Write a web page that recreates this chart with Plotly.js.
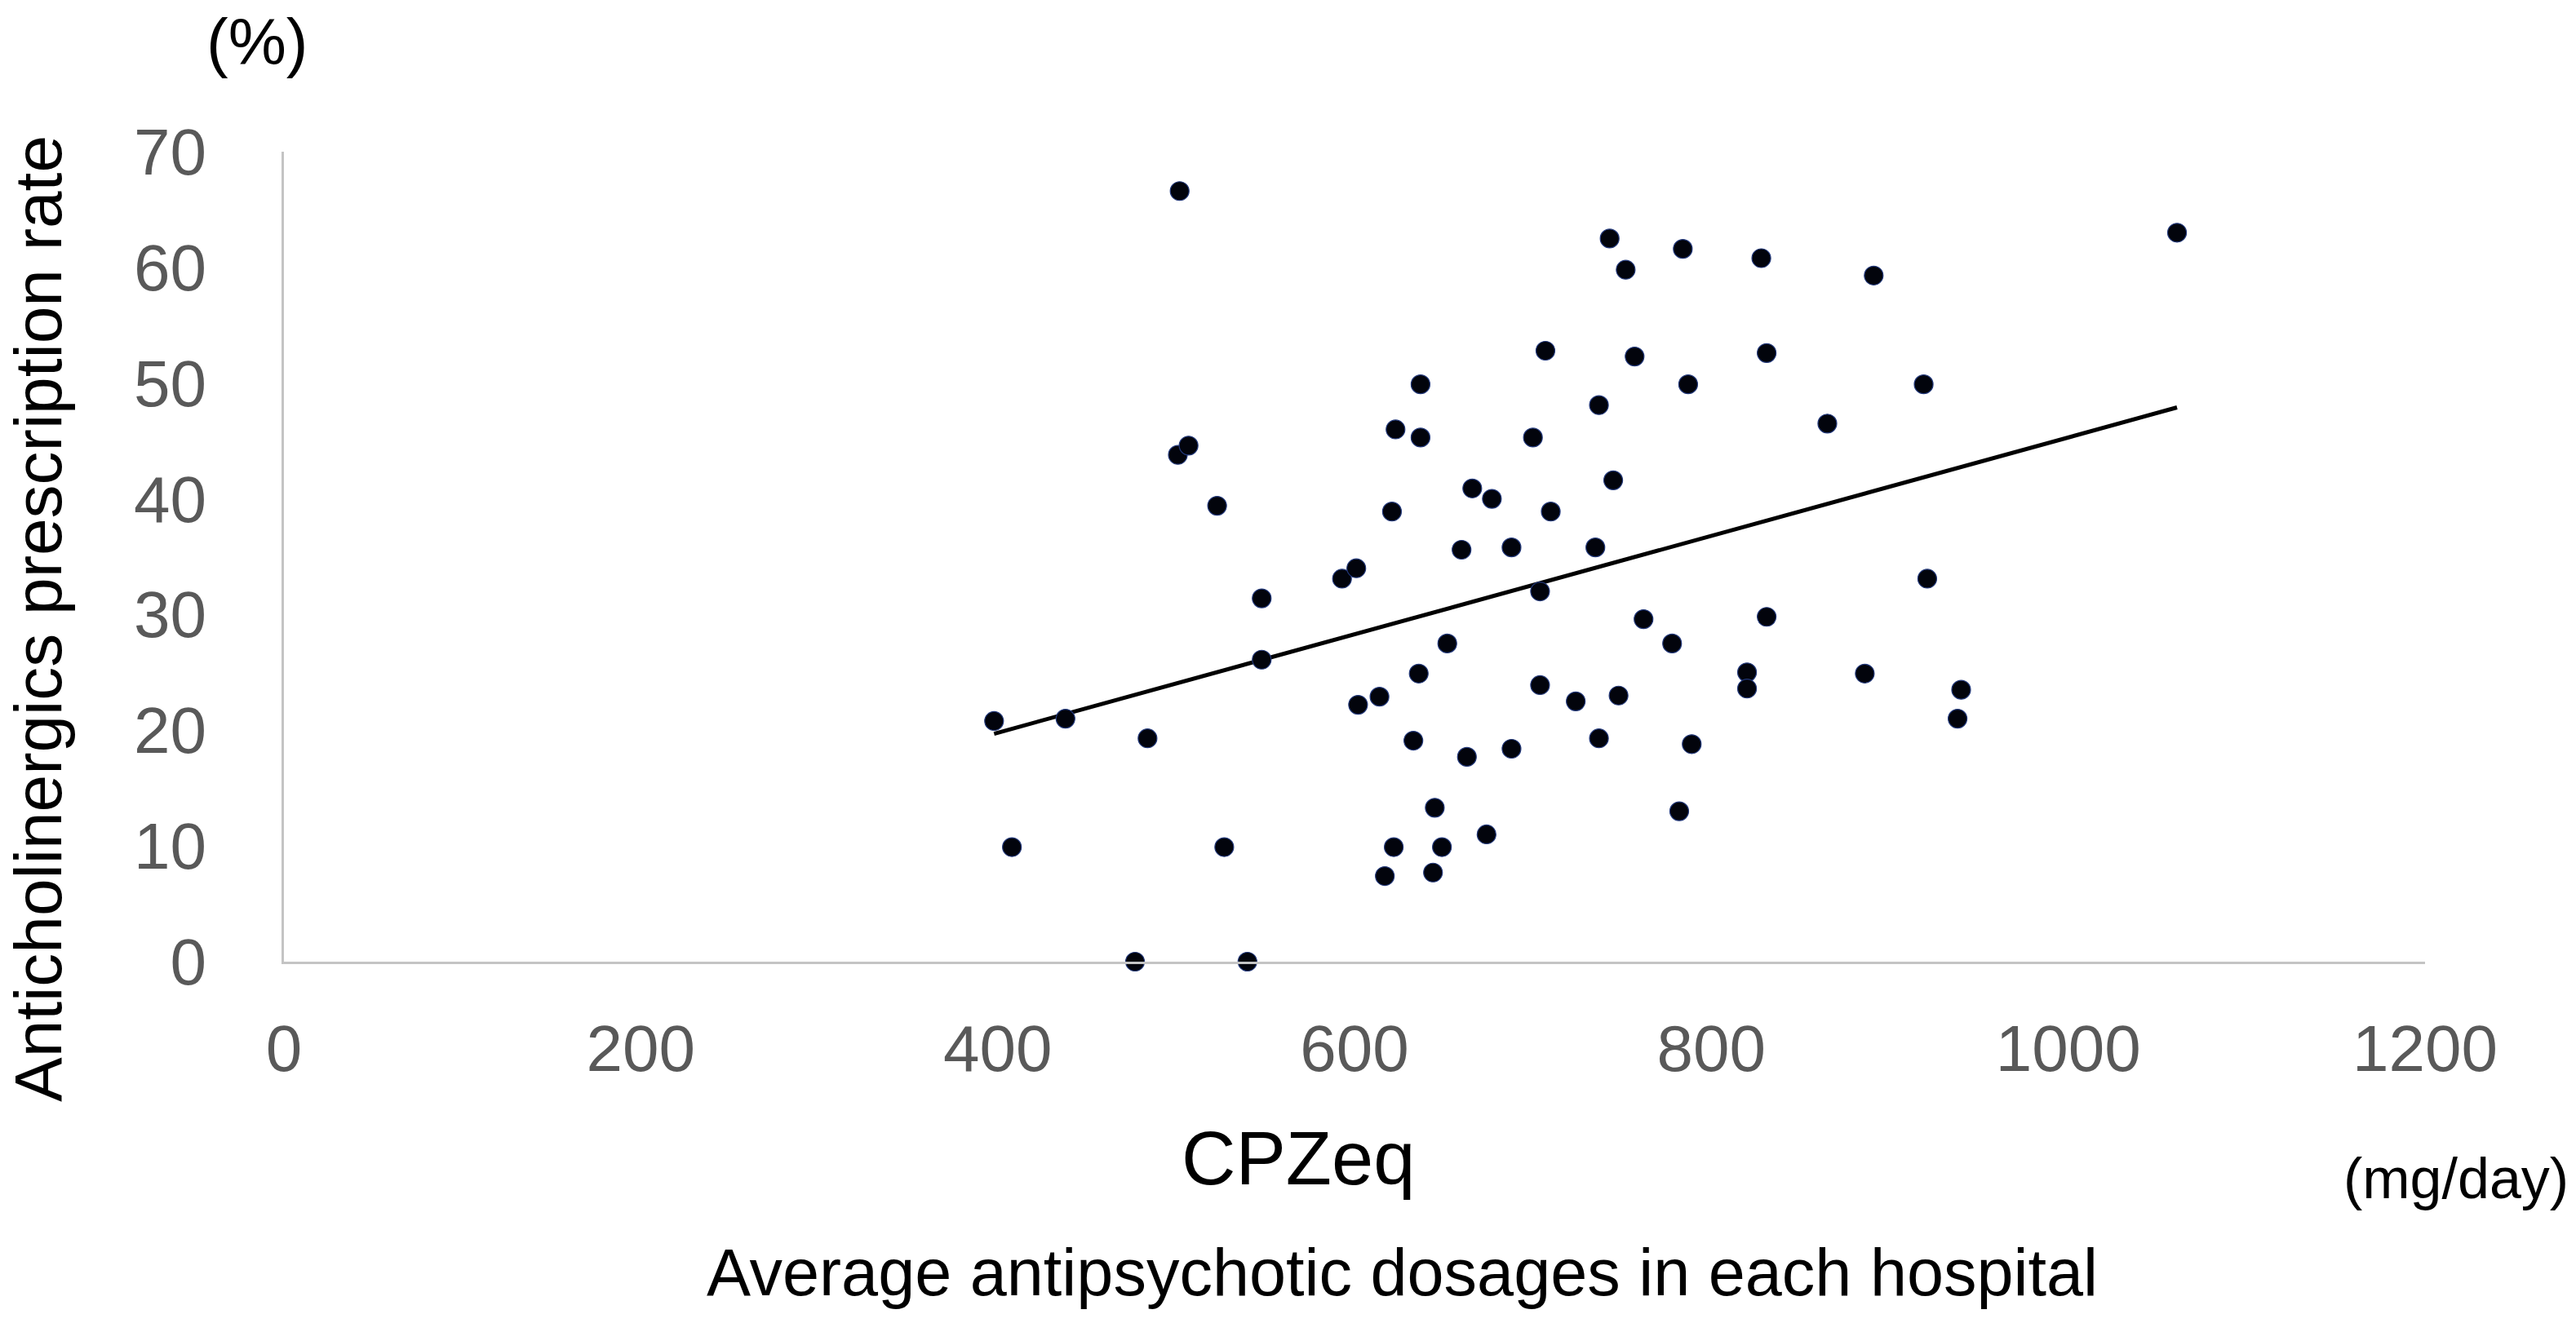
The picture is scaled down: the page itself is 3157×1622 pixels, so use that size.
<!DOCTYPE html>
<html>
<head>
<meta charset="utf-8">
<script src="https://cdn.plot.ly/plotly-3.0.1.min.js"></script>
<style>
  html, body { margin: 0; padding: 0; background: #ffffff; }
  #chart { width: 3157px; height: 1622px; }
</style>
</head>
<body>
<div id="chart"></div>
<script>
// average antipsychotic dose per hospital (CPZeq, mg/day)
const cpzeq = [
  398, 408, 438, 477, 484, 502, 501, 507, 523, 527,
  540, 548, 548, 593, 601, 602, 614, 617, 622, 623,
  621, 633, 636, 637, 637, 644, 645, 649, 652, 660,
  663, 666, 674, 677, 688, 688, 700, 704, 704, 707,
  710, 724, 737, 735, 737, 743, 745, 748, 752, 757,
  762, 778, 782, 784, 787, 789, 820, 820, 828, 831,
  831, 865, 886, 891, 919, 921, 940, 938, 1061,
];

// anticholinergics prescription rate (%)
const rate = [
  20.8, 9.9, 21.0, 0, 19.3, 66.6, 43.8, 44.6, 39.4, 9.9,
  0, 31.4, 26.1, 33.1, 34.0, 22.2, 22.9, 7.4, 9.9, 46.0,
  38.9, 19.1, 24.9, 49.9, 45.3, 7.7, 13.3, 9.9, 27.5, 35.6,
  17.7, 40.9, 11.0, 40.0, 35.8, 18.4, 45.3, 32.0, 23.9, 52.8,
  38.9, 22.5, 48.1, 35.8, 19.3, 62.5, 41.6, 23.0, 59.8, 52.3,
  29.6, 27.5, 13.0, 61.6, 49.9, 18.8, 25.0, 23.6, 60.8, 52.6,
  29.8, 46.5, 24.9, 59.3, 49.9, 33.1, 23.5, 21.0, 63.0,
];

// linear trend line as drawn (end points)
const trendX = [398, 1061];
const trendY = [19.7, 47.9];

const xTicks = [0, 200, 400, 600, 800, 1000, 1200];
const yTicks = [0, 10, 20, 30, 40, 50, 60, 70];

const WIDTH = 3157;
const HEIGHT = 1622;
const margin = { l: 348, r: 185, t: 186, b: 443 };
const plotW = WIDTH - margin.l - margin.r;
const plotH = HEIGHT - margin.t - margin.b;

const FONT = "Liberation Sans, Arial, Helvetica, sans-serif";

// pixel position on the page -> paper coordinates
function paperX(px) {
  return (px - margin.l) / plotW;
}
function paperY(py) {
  return (HEIGHT - margin.b - py) / plotH;
}

function label(text, px, py, size, extra = {}) {
  return {
    text,
    xref: "paper",
    yref: "paper",
    x: paperX(px),
    y: paperY(py),
    xanchor: "center",
    yanchor: "middle",
    showarrow: false,
    font: { family: FONT, size, color: "#000000" },
    ...extra,
  };
}

const traces = [
  {
    x: trendX,
    y: trendY,
    mode: "lines",
    type: "scatter",
    line: { color: "#000000", width: 5 },
    hoverinfo: "skip",
  },
  {
    x: cpzeq,
    y: rate,
    mode: "markers",
    type: "scatter",
    cliponaxis: false,
    marker: {
      size: 23,
      color: "#02040c",
      line: { color: "#22387a", width: 1.2 },
    },
  },
];

const axisCommon = {
  showgrid: false,
  zeroline: false,
  showline: true,
  linecolor: "#c4c4c4",
  linewidth: 3,
  ticks: "",
  tickfont: { family: FONT, size: 80, color: "#595959" },
  fixedrange: true,
};

const layout = {
  width: WIDTH,
  height: HEIGHT,
  margin: { ...margin, pad: 0 },
  paper_bgcolor: "#ffffff",
  plot_bgcolor: "#ffffff",
  showlegend: false,
  xaxis: {
    ...axisCommon,
    range: [0, 1200],
    tickvals: xTicks,
    ticktext: xTicks.map(String),
    ticklabelstandoff: 35,
  },
  yaxis: {
    ...axisCommon,
    range: [0, 70],
    tickvals: yTicks,
    ticktext: yTicks.map(String),
    ticklabelstandoff: 76,
  },
  annotations: [
    label("(%)", 315, 52, 80),
    label("Anticholinergics prescription rate", 46, 759, 82, { textangle: -90 }),
    label("CPZeq", 1591, 1420, 92),
    label("(mg/day)", 3010, 1445, 70),
    label("Average antipsychotic dosages in each hospital", 1718, 1560, 81),
  ],
};

Plotly.newPlot("chart", traces, layout, { staticPlot: true, displayModeBar: false });
</script>
</body>
</html>
